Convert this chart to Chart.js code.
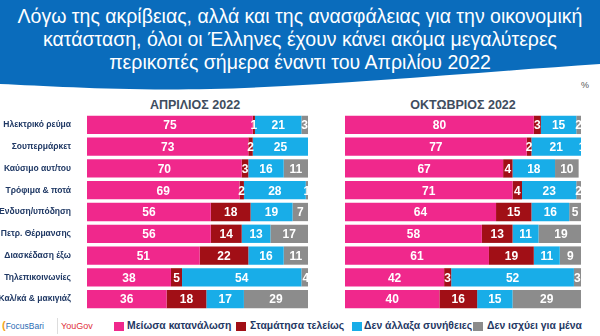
<!DOCTYPE html>
<html>
<head>
<meta charset="utf-8">
<script src="https://cdn.jsdelivr.net/npm/chart.js@4/dist/chart.umd.min.js"></script>
<style>
  body { margin: 0; width: 600px; height: 336px; background: #fff; font-family: "Liberation Sans", Arial, sans-serif; overflow: hidden; position: relative; }
  #banner { position: absolute; left: 0; top: 0; width: 600px; height: 95px; }
  #title { position: absolute; left: 0; top: 5px; width: 600px; text-align: center; color: #fff; font-size: 19.5px; line-height: 23px; }
  .pct { position: absolute; left: 581px; top: 80px; font-size: 9px; color: #555; }
  .colTitle { position: absolute; top: 98px; font-size: 12.5px; font-weight: bold; color: #3f4d5e; text-align: center; }
  .chartBox { position: absolute; top: 114px; height: 196px; }
  #legend { position: absolute; left: 0; top: 318px; width: 600px; height: 18px; font-size: 10.4px; font-weight: bold; color: #1f3864; }
  #legend span { position: absolute; top: 2px; white-space: nowrap; }
  #legend i { position: absolute; top: 4px; width: 10px; height: 9px; }
</style>
</head>
<body>
<svg id="banner" viewBox="0 0 600 95">
  <path d="M0,0 H600 V64 C480,72 330,86 210,89 C120,91 50,86 0,84 Z" fill="#0a6cbc"/>
</svg>
<div id="title">Λόγω της ακρίβειας, αλλά και της ανασφάλειας για την οικονομική<br>κατάσταση, όλοι οι Έλληνες έχουν κάνει ακόμα μεγαλύτερες<br>περικοπές σήμερα έναντι του Απριλίου 2022</div>
<div class="pct">%</div>
<div class="colTitle" style="left:115px;width:160px;">ΑΠΡΙΛΙΟΣ 2022</div>
<div class="colTitle" style="left:383px;width:160px;">ΟΚΤΩΒΡΙΟΣ 2022</div>
<div class="chartBox" style="left:0;width:308px;"><canvas id="aprChart"></canvas></div>
<div class="chartBox" style="left:345px;width:236px;"><canvas id="octChart"></canvas></div>
<div id="legend">
  <span style="left:2px;top:1px;font-size:8.5px;font-weight:normal;color:#2c6db5;"><b style="color:#f2a51a;font-size:11px;">(</b>FocusBari</span>
  <span style="left:57px;top:0;width:1px;height:16px;background:#ddd;"></span>
  <span style="left:61px;top:3px;font-size:9px;font-weight:normal;color:#e0303a;">YouGov</span>
  <i style="left:114px;background:#f0288c;"></i><span style="left:127px;" id="lg0"></span>
  <i style="left:236px;background:#a10f16;"></i><span style="left:250px;" id="lg1"></span>
  <i style="left:352px;background:#18ade8;"></i><span style="left:364px;" id="lg2"></span>
  <i style="left:473px;background:#8c8c8c;"></i><span style="left:487px;" id="lg3"></span>
</div>
<script>
// categories
const categories = ['Ηλεκτρικό ρεύμα', 'Σουπερμάρκετ', 'Καύσιμο αυτ/του', 'Τρόφιμα & ποτά',
  'Ένδυση/υπόδηση', 'Πετρ. Θέρμανσης', 'Διασκέδαση έξω', 'Τηλεπικοινωνίες', 'Καλ/κά & μακιγιάζ'];

const seriesNames = ['Μείωσα κατανάλωση', 'Σταμάτησα τελείως', 'Δεν άλλαξα συνήθειες', 'Δεν ισχύει για μένα'];
const seriesColors = ['#f0288c', '#a10f16', '#18ade8', '#8c8c8c'];

// April 2022
const aprReduced = [75, 73, 70, 69, 56, 56, 51, 38, 36];
const aprStopped = [1, 2, 3, 2, 18, 14, 22, 5, 18];
const aprNoChange = [21, 25, 16, 28, 19, 13, 16, 54, 17];
const aprNA = [3, 0, 11, 1, 7, 17, 11, 4, 29];

// October 2022
const octReduced = [80, 77, 67, 71, 64, 58, 61, 42, 40];
const octStopped = [3, 2, 4, 4, 15, 13, 19, 3, 16];
const octNoChange = [15, 21, 18, 23, 16, 11, 11, 52, 15];
const octNA = [2, 1, 10, 2, 5, 19, 9, 3, 29];

seriesNames.forEach((n, i) => { document.getElementById('lg' + i).textContent = n; });

// white value labels in the middle of each segment
const barLabels = {
  id: 'barLabels',
  afterDatasetsDraw(chart) {
    const ctx = chart.ctx;
    ctx.save();
    ctx.font = 'bold 12px "Liberation Sans", Arial, sans-serif';
    ctx.fillStyle = '#fff';
    ctx.textAlign = 'center';
    ctx.textBaseline = 'middle';
    chart.data.datasets.forEach((ds, i) => {
      const meta = chart.getDatasetMeta(i);
      meta.data.forEach((bar, j) => {
        const v = ds.data[j];
        if (!v) return;
        const p = bar.getProps(['x', 'y', 'base'], true);
        ctx.fillText(String(v), (p.x + p.base) / 2, p.y + 1);
      });
    });
    ctx.restore();
  }
};

function makeChart(id, series, showLabels) {
  const ctx = document.getElementById(id).getContext('2d');
  return new Chart(ctx, {
    type: 'bar',
    data: {
      labels: categories,
      datasets: series.map((d, i) => ({
        label: seriesNames[i],
        data: d,
        backgroundColor: seriesColors[i],
        borderWidth: 0,
        categoryPercentage: 0.84,
        barPercentage: 1
      }))
    },
    options: {
      indexAxis: 'y',
      responsive: true,
      maintainAspectRatio: false,
      animation: false,
      layout: { padding: 0 },
      plugins: { legend: { display: false }, tooltip: { enabled: false } },
      scales: {
        x: { stacked: true, min: 0, max: 100, display: false },
        y: {
          stacked: true,
          display: showLabels,
          grid: { display: false },
          border: { display: false },
          ticks: {
            color: '#1f3864',
            font: { family: '"Liberation Sans", Arial, sans-serif', size: 8.5, weight: 'bold' },
            padding: 8
          },
          // keep the bar area at a fixed left edge and full height
          afterFit: showLabels ? (scale) => {
            scale.width = 87;
            scale.paddingTop = 0;
            scale.paddingBottom = 0;
          } : undefined
        }
      }
    },
    plugins: [barLabels]
  });
}

makeChart('aprChart', [aprReduced, aprStopped, aprNoChange, aprNA], true);
makeChart('octChart', [octReduced, octStopped, octNoChange, octNA], false);
</script>
</body>
</html>
